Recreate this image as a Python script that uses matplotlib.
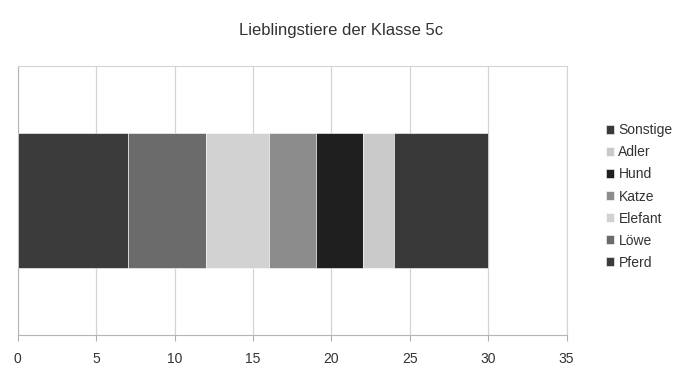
import numpy as np
import matplotlib.pyplot as plt

plt.rcParams["font.family"] = ["Liberation Sans", "DejaVu Sans"]

tiere = ["Pferd", "Löwe", "Elefant", "Katze", "Hund", "Adler", "Sonstige"]
anzahl = [7, 5, 4, 3, 3, 2, 6]
farben = ["#3b3b3b", "#6b6b6b", "#d2d2d2", "#8c8c8c", "#1f1f1f", "#cacaca", "#393939"]

fig = plt.figure(figsize=(6.86, 3.77), dpi=100)
ax = fig.add_axes([0.026, 0.111, 0.8, 0.714])

links = np.concatenate([[0], np.cumsum(anzahl)[:-1]])
for tier, wert, start, farbe in zip(tiere, anzahl, links, farben):
    ax.barh(0, wert, left=start, height=1.0, color=farbe, label=tier,
            edgecolor="white", linewidth=0.4, zorder=3)

ax.set_xlim(0, 35)
ax.set_ylim(-1, 1)
ax.set_xticks(range(0, 36, 5))
ax.set_yticks([])
ax.grid(axis="x", color="#d4d4d4", linewidth=0.9, zorder=0)
ax.tick_params(axis="x", colors="#b0b0b0", labelcolor="#333333",
               labelsize=10, length=4, pad=8)
for side in ["top", "right"]:
    ax.spines[side].set_color("#d4d4d4")
for side in ["left", "bottom"]:
    ax.spines[side].set_color("#b5b5b5")

fig.suptitle("Lieblingstiere der Klasse 5c", x=0.497, y=0.94,
             fontsize=12, color="#333333")

handles, labels = ax.get_legend_handles_labels()
fig.legend(handles[::-1], labels[::-1], loc="upper left",
           bbox_to_anchor=(0.865, 0.706), frameon=False, fontsize=10,
           handlelength=0.6, handleheight=0.6, handletextpad=0.3,
           labelspacing=0.58, labelcolor="#333333")

fig.savefig("out.png", dpi=100)
